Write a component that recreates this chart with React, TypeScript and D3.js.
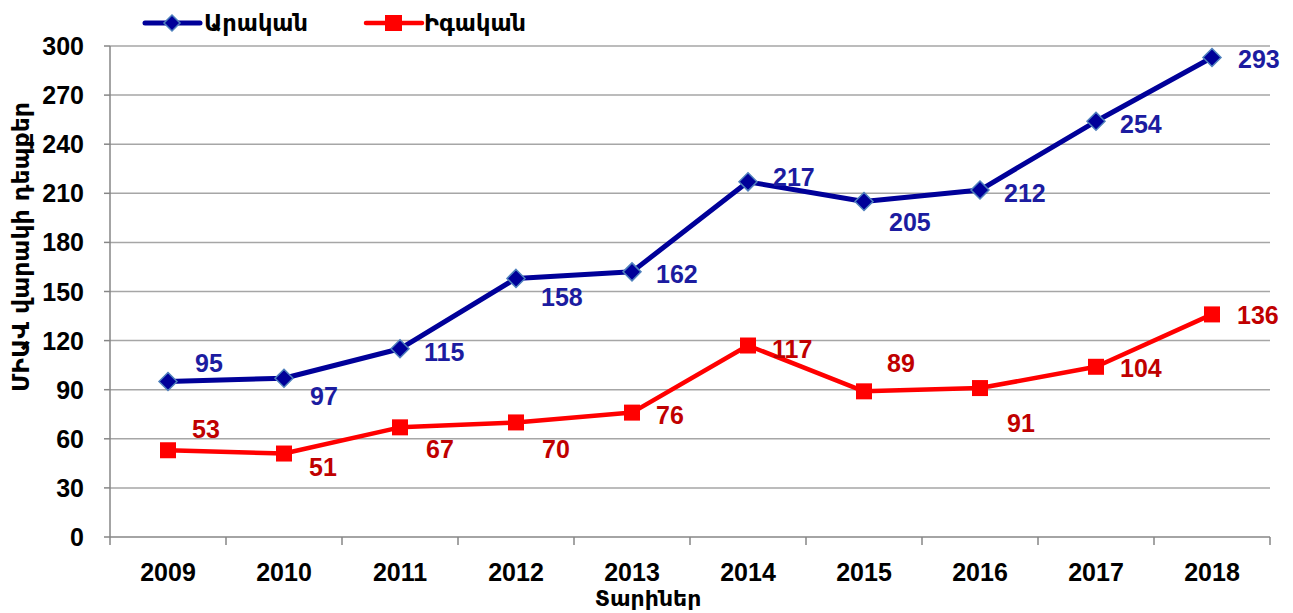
import React from "react";
import { scaleBand, scaleLinear, line, range } from "d3";

const years = ["2009", "2010", "2011", "2012", "2013", "2014", "2015", "2016", "2017", "2018"];
const male = [95, 97, 115, 158, 162, 217, 205, 212, 254, 293];
const female = [53, 51, 67, 70, 76, 117, 89, 91, 104, 136];
const yTicks = range(0, 301, 30);
const seriesNames = ["Արական", "Իգական"];
const yTitle = "ՄԻԱՎ վարակի դեպքեր";
const xTitle = "Տարիներ";

// value label nudges [dx, dy] from each point
const maleLabelOffset = [[27, -10], [26, 27], [24, 12], [25, 28], [24, 11], [25, 4], [25, 30], [24, 12], [24, 12], [26, 11]];
const femaleLabelOffset = [[24, -12], [25, 22], [26, 31], [26, 36], [24, 11], [24, 12], [23, -19], [27, 44], [24, 10], [25, 10]];

const width = 1293;
const height = 613;
const margin = { top: 46, right: 23, bottom: 76, left: 110 };
const innerWidth = width - margin.left - margin.right;
const innerHeight = height - margin.top - margin.bottom;

const numFont = "'Liberation Sans', 'DejaVu Sans', sans-serif";
const armFont = "'DejaVu Sans', sans-serif";

const blue = "#000099";
const blueLabel = "#1c1ca0";
const red = "#ff0000";
const redLabel = "#c00000";

export default function App() {
  const xScale = scaleBand().domain(years).range([0, innerWidth]);
  const yScale = scaleLinear().domain([0, 300]).range([innerHeight, 0]);
  const cx = (y: string) => (xScale(y) ?? 0) + xScale.bandwidth() / 2;

  const lineGen = line<number>()
    .x((_, i) => cx(years[i]))
    .y((d) => yScale(d));

  return (
    <svg width={width} height={height} style={{ position: "absolute", left: 0, top: 0 }}>
      <rect width={width} height={height} fill="white" />
      <g transform={`translate(${margin.left},${margin.top})`}>
        {yTicks.map((t) => (
          <g key={t} transform={`translate(0,${yScale(t)})`}>
            {t > 0 && <line x2={innerWidth} stroke="#a6a6a6" strokeWidth={1.5} />}
            <line x1={-6} x2={0} stroke="#868686" strokeWidth={1.5} />
            <text
              x={-26}
              dy="0.36em"
              textAnchor="end"
              fontFamily={numFont}
              fontWeight="bold"
              fontSize={25}
              fill="#000"
            >
              {t}
            </text>
          </g>
        ))}
        <line y1={0} y2={innerHeight} stroke="#868686" strokeWidth={1.5} />
        <line x1={0} x2={innerWidth} y1={innerHeight} y2={innerHeight} stroke="#868686" strokeWidth={1.5} />
        {range(years.length + 1).map((i) => (
          <line
            key={i}
            x1={i * xScale.step()}
            x2={i * xScale.step()}
            y1={innerHeight}
            y2={innerHeight + 8}
            stroke="#868686"
            strokeWidth={1.5}
          />
        ))}
        {years.map((y) => (
          <text
            key={y}
            x={cx(y)}
            y={innerHeight + 44}
            textAnchor="middle"
            fontFamily={numFont}
            fontWeight="bold"
            fontSize={25}
            fill="#000"
          >
            {y}
          </text>
        ))}

        <path d={lineGen(female) ?? ""} fill="none" stroke={red} strokeWidth={4.5} strokeLinejoin="round" />
        {female.map((v, i) => (
          <rect
            key={i}
            x={cx(years[i]) - 8}
            y={yScale(v) - 8}
            width={16}
            height={16}
            fill={red}
          />
        ))}
        <path d={lineGen(male) ?? ""} fill="none" stroke={blue} strokeWidth={5} strokeLinejoin="round" />
        {male.map((v, i) => (
          <path
            key={i}
            d="M0,-9L9,0L0,9L-9,0Z"
            transform={`translate(${cx(years[i])},${yScale(v)})`}
            fill={blue}
            stroke="#4f81bd"
            strokeWidth={1.5}
          />
        ))}

        {male.map((v, i) => (
          <text
            key={i}
            x={cx(years[i]) + maleLabelOffset[i][0]}
            y={yScale(v) + maleLabelOffset[i][1]}
            fontFamily={numFont}
            fontWeight="bold"
            fontSize={25}
            fill={blueLabel}
          >
            {v}
          </text>
        ))}
        {female.map((v, i) => (
          <text
            key={i}
            x={cx(years[i]) + femaleLabelOffset[i][0]}
            y={yScale(v) + femaleLabelOffset[i][1]}
            fontFamily={numFont}
            fontWeight="bold"
            fontSize={25}
            fill={redLabel}
          >
            {v}
          </text>
        ))}
      </g>

      {/* legend */}
      <g transform="translate(145,23)">
        <line x1={0} x2={55} stroke={blue} strokeWidth={5} strokeLinecap="round" />
        <path d="M0,-8L8,0L0,8L-8,0Z" transform="translate(27,0)" fill={blue} stroke="#4f81bd" strokeWidth={1.5} />
        <text x={59} dy="0.36em" fontFamily={armFont} fontWeight="bold" fontSize={22.5} fill="#000">
          {seriesNames[0]}
        </text>
      </g>
      <g transform="translate(366,23)">
        <line x1={0} x2={56} stroke={red} strokeWidth={4.5} strokeLinecap="round" />
        <rect x={19} y={-8} width={17} height={16} fill={red} />
        <text x={58} dy="0.36em" fontFamily={armFont} fontWeight="bold" fontSize={22.5} fill="#000">
          {seriesNames[1]}
        </text>
      </g>

      <text
        transform="translate(29,247) rotate(-90)"
        textAnchor="middle"
        fontFamily={armFont}
        fontWeight="bold"
        fontSize={23.5}
        fill="#000"
      >
        {yTitle}
      </text>
      <text
        x={648}
        y={606}
        textAnchor="middle"
        fontFamily={armFont}
        fontWeight="bold"
        fontSize={22}
        fill="#000"
      >
        {xTitle}
      </text>
    </svg>
  );
}
